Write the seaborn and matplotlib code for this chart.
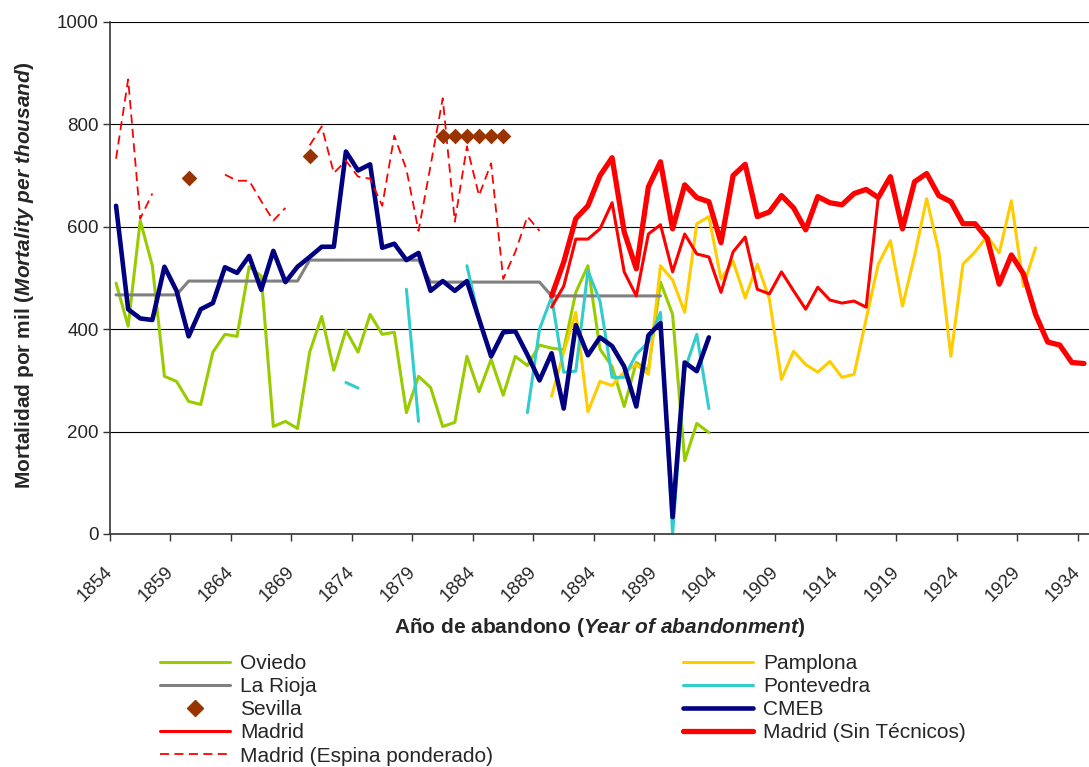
import numpy as np
import pandas as pd
import matplotlib
matplotlib.use("Agg")
import matplotlib.pyplot as plt
import matplotlib.transforms as mtransforms
import seaborn as sns
from matplotlib.lines import Line2D

nan = np.nan

# category axis: one slot per year
tick_years = list(range(1854, 1935, 5))

oviedo_from = 1854
oviedo = [490, 406, 612, 524, 308, 298, 259, 253, 355, 390,
          386, 522, 504, 210, 220, 206, 355, 425, 320, 398,
          355, 429, 390, 394, 237, 308, 286, 210, 218, 347,
          278, 341, 271, 347, 329, 369, 363, 360, 472, 524,
          361, 327, 249, 335, 320, 492, 429, 143, 216, 198]

pamplona_from = 1890
pamplona = [269, 355, 433, 239, 298, 290, 316, 331, 312, 524,
            496, 433, 606, 620, 498, 533, 461, 527, 459, 302,
            357, 331, 316, 337, 306, 312, 420, 527, 573, 445,
            543, 655, 553, 347, 527, 551, 582, 549, 651, 484,
            559]

rioja_from = 1854
rioja = [467] * 6 + [494] * 10 + [535] * 10 + [492] * 10 + [465] * 10

pontevedra_from = 1873
pontevedra = [296, 285, nan, nan, nan, 478, 220, nan, nan, nan,
              524, 420, nan, nan, nan, 237, 400, 463, 316, 318,
              514, 455, 306, 306, 351, 375, 433, 0, 320, 390,
              245]

sevilla_years = [1860, 1870, 1881, 1882, 1883, 1884, 1885, 1886]
sevilla = [696, 739, 778, 778, 778, 778, 778, 778]

cmeb_from = 1854
cmeb = [641, 439, 421, 418, 522, 475, 386, 439, 451, 521,
        510, 543, 477, 553, 492, 522, 541, 561, 561, 747,
        710, 722, 559, 567, 535, 549, 475, 494, 475, 494,
        420, 347, 394, 396, 350, 300, 353, 245, 408, 349,
        384, 367, 327, 249, 388, 412, 33, 335, 318, 384]

madrid_from = 1890
madrid = [443, 484, 576, 576, 596, 647, 512, 465, 586, 604,
          512, 586, 547, 541, 472, 551, 580, 478, 469, 512,
          475, 439, 482, 457, 451, 455, 443, 657]

madrid_sin_from = 1890
madrid_sin = [465, 531, 616, 641, 700, 735, 590, 518, 678, 727,
              596, 682, 657, 649, 569, 700, 722, 620, 629, 661,
              637, 594, 659, 647, 643, 665, 673, 657, 698, 596,
              688, 704, 661, 649, 606, 606, 577, 488, 545, 508,
              429, 375, 369, 335, 333]

espina_from = 1854
espina = [733, 888, 616, 665, nan, nan, nan, nan, nan, 702,
          690, 690, 650, 612, 637, nan, 759, 796, 705, 729,
          698, 694, 641, 778, 712, 592, 720, 851, 610, 757,
          661, 724, 498, 551, 620, 592]

sns.set_style("white")
plt.rcParams['font.family'] = ['Liberation Sans', 'DejaVu Sans']
plt.rcParams['mathtext.fontset'] = 'custom'
plt.rcParams['mathtext.it'] = 'Liberation Sans:italic:bold'
plt.rcParams['mathtext.rm'] = 'Liberation Sans:bold'
plt.rcParams['mathtext.bf'] = 'Liberation Sans:bold'

fig = plt.figure(figsize=(10.89, 7.67), dpi=100)
ax = fig.add_axes([110 / 1089, 1 - 534 / 767, 980 / 1089, 512 / 767])


def draw(start, values, **kw):
    """draw a series, breaking the line where values are missing"""
    s = pd.Series(values, index=np.arange(start, start + len(values)), dtype=float)
    ok = s.notna()
    runs = (~ok).cumsum()
    for _, seg in s[ok].groupby(runs[ok]):
        if len(seg) > 1:
            sns.lineplot(x=seg.index.values, y=seg.values, ax=ax,
                         legend=False, **kw)


styles = {
    'Oviedo': dict(color='#99CC00', lw=2.2),
    'Pamplona': dict(color='#FFCC00', lw=2.2),
    'La Rioja': dict(color='#808080', lw=2.2),
    'Pontevedra': dict(color='#33CCCC', lw=2.2),
    'CMEB': dict(color='#000080', lw=3.3),
    'Madrid': dict(color='#FF0000', lw=2.2),
    'Madrid (Sin Técnicos)': dict(color='#FF0000', lw=3.8),
    'Madrid (Espina ponderado)': dict(color='#FF0000', lw=1.3, ls=(0, (5, 3))),
}

# same order Excel drew them
draw(oviedo_from, oviedo, **styles['Oviedo'])
draw(pamplona_from, pamplona, **styles['Pamplona'])
draw(rioja_from, rioja, **styles['La Rioja'])
draw(pontevedra_from, pontevedra, **styles['Pontevedra'])
sns.scatterplot(x=sevilla_years, y=sevilla, ax=ax, marker='D', s=64,
                color='#993300', edgecolor='#993300', linewidth=0, zorder=3)
draw(cmeb_from, cmeb, **styles['CMEB'])
draw(madrid_from, madrid, **styles['Madrid'])
draw(madrid_sin_from, madrid_sin, **styles['Madrid (Sin Técnicos)'])
draw(espina_from, espina, **styles['Madrid (Espina ponderado)'])

# axes
ax.set_xlim(1853.5, 1934.5)
ax.set_ylim(0, 1000)
ax.set_yticks(range(0, 1001, 200))
ax.set_xticks(tick_years)
ax.set_xticklabels([str(y) for y in tick_years], rotation=45, ha='right',
                   va='top', rotation_mode='default', fontsize=13.5)
shift = mtransforms.ScaledTranslation(-12 / 100, 0, fig.dpi_scale_trans)
for lab in ax.get_xticklabels():
    lab.set_transform(lab.get_transform() + shift)
ax.set_xticks(np.arange(1853.5, 1934, 5), minor=True)
ax.tick_params(axis='x', which='major', length=0, pad=21)
ax.tick_params(axis='x', which='minor', length=5, width=1, direction='out',
               color='#333333', bottom=True)
ax.tick_params(axis='y', length=5, width=1, direction='out', color='#333333',
               labelsize=13.5, pad=3, left=True)
ax.grid(axis='y', color='black', lw=0.8)
ax.grid(axis='x', visible=False)
ax.set_axisbelow(True)
for side in ['top', 'right']:
    ax.spines[side].set_visible(False)
for side in ['left', 'bottom']:
    ax.spines[side].set_color('#333333')
    ax.spines[side].set_linewidth(1.2)

ax.set_xlabel(r"Año de abandono $\mathit{(Year\ of\ abandonment)}$",
              fontsize=15, fontweight='bold')
ax.xaxis.set_label_coords(0.5, -0.16)
ax.set_ylabel(r"Mortalidad por mil $\mathit{(Mortality\ per\ thousand)}$",
              fontsize=15, fontweight='bold')
ax.yaxis.set_label_coords(-0.075, 0.506)

# legend, two columns like the original
def handle(name):
    st = dict(styles[name])
    return Line2D([], [], color=st['color'], lw=st['lw'], ls=st.get('ls', '-'))

left_names = ['Oviedo', 'La Rioja', 'Sevilla', 'Madrid', 'Madrid (Espina ponderado)']
right_names = ['Pamplona', 'Pontevedra', 'CMEB', 'Madrid (Sin Técnicos)']
left_handles = [handle(n) if n != 'Sevilla' else
                Line2D([], [], ls='none', marker='D', ms=8, color='#993300')
                for n in left_names]
right_handles = [handle(n) for n in right_names]

leg_kw = dict(frameon=False, fontsize=15, handlelength=3.36, handletextpad=0.48,
              labelspacing=0.2, borderpad=0, borderaxespad=0, loc='upper left')
fig.legend(left_handles, left_names, bbox_to_anchor=(160 / 1089, 1 - 654 / 767), **leg_kw)
fig.legend(right_handles, right_names, bbox_to_anchor=(683 / 1089, 1 - 654 / 767), **leg_kw)

fig.savefig('out.png', dpi=100)
